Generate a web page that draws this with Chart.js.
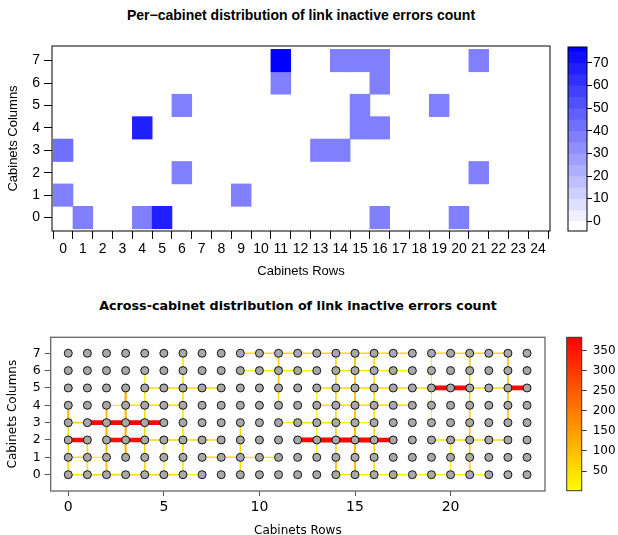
<!DOCTYPE html>
<html>
<head>
<meta charset="utf-8">
<script src="https://cdn.jsdelivr.net/npm/chart.js@4.4.0/dist/chart.umd.min.js"></script>
<style>
  html, body { margin: 0; padding: 0; background: #fff; overflow: hidden; }
  #page { position: relative; width: 618px; height: 535px; }
  canvas { position: absolute; }
  .title { position: absolute; text-align: center; white-space: nowrap; line-height: 20px; color: #000; }
</style>
</head>
<body>
<div id="page">
  <div class="title" style="left:0;top:7px;width:602px;font:bold 14px 'Liberation Sans'">Per−cabinet distribution of link inactive errors count</div>
  <div class="title" style="left:0;top:298px;width:596px;font:bold 12.7px 'DejaVu Sans'">Across-cabinet distribution of link inactive errors count</div>
  <canvas id="heat" width="560" height="290" style="left:0;top:0"></canvas>
  <canvas id="heatBar" width="58" height="290" style="left:560px;top:0"></canvas>
  <canvas id="net" width="560" height="250" style="left:0;top:290px"></canvas>
  <canvas id="netBar" width="58" height="250" style="left:560px;top:290px"></canvas>
</div>
<script>
// ---- per-cabinet heatmap ----
const cellCols   = [1, 4, 5, 16, 20, 0, 9, 6, 21, 0, 13, 14, 4, 15, 16, 6, 15, 19, 11, 16, 11, 14, 15, 16, 21];
const cellRows   = [0, 0, 0, 0, 0, 1, 1, 2, 2, 3, 3, 3, 4, 4, 4, 5, 5, 5, 6, 6, 7, 7, 7, 7, 7];
const cellCounts = [36, 36, 67, 36, 36, 36, 36, 36, 36, 42, 36, 36, 68, 36, 36, 36, 36, 36, 36, 36, 77, 36, 36, 36, 36];
const heatXTicks = [0, 1, 2, 3, 4, 5, 6, 7, 8, 9, 10, 11, 12, 13, 14, 15, 16, 17, 18, 19, 20, 21, 22, 23, 24];
const heatYTicks = [0, 1, 2, 3, 4, 5, 6, 7];
const heatLevels = [-4.3, 0, 5, 10, 15, 20, 25, 30, 35, 40, 45, 50, 55, 60, 65, 70, 75, 77];
const heatBarTicks = [0, 10, 20, 30, 40, 50, 60, 70];

// ---- across-cabinet links ----
const gridCols = 25, gridRows = 8;
const netXTicks = [0, 5, 10, 15, 20];
const netYTicks = [0, 1, 2, 3, 4, 5, 6, 7];
const netBarTicks = [50, 100, 150, 200, 250, 300, 350];
const linkMin = 1, linkMax = 383;
// horizontal links: [row, left column, count]
const hLinks = [
  [0, 0, 45], [0, 1, 55], [0, 2, 55], [0, 3, 55], [0, 4, 55], [0, 5, 50], [0, 6, 15],
  [0, 14, 25], [0, 15, 30], [0, 16, 25], [0, 17, 25], [0, 18, 20], [0, 19, 20], [0, 20, 25], [0, 21, 15],
  [1, 0, 45], [1, 1, 15], [1, 7, 50], [1, 8, 50], [1, 9, 40], [1, 10, 40],
  [2, 0, 368], [2, 2, 365], [2, 3, 366], [2, 4, 55], [2, 5, 55], [2, 6, 55], [2, 7, 55],
  [2, 12, 375], [2, 13, 378], [2, 14, 378], [2, 15, 376], [2, 16, 370],
  [2, 19, 55], [2, 20, 55], [2, 21, 55], [2, 22, 55],
  [3, 0, 60], [3, 1, 370], [3, 2, 375], [3, 3, 375], [3, 4, 374],
  [3, 11, 35], [3, 12, 45], [3, 13, 45], [3, 14, 30], [3, 15, 20],
  [4, 2, 25], [4, 3, 45], [4, 4, 45], [4, 5, 40], [4, 13, 45], [4, 14, 45], [4, 15, 45], [4, 16, 40], [4, 17, 40],
  [5, 4, 55], [5, 5, 55], [5, 6, 55], [5, 7, 55], [5, 13, 55], [5, 14, 55], [5, 15, 55], [5, 16, 55], [5, 17, 55],
  [5, 18, 45], [5, 19, 372], [5, 20, 372], [5, 21, 60], [5, 22, 60], [5, 23, 370],
  [6, 9, 25], [6, 10, 35], [6, 11, 35], [6, 12, 25], [6, 14, 35], [6, 15, 45], [6, 16, 45], [6, 17, 25],
  [7, 9, 55], [7, 10, 55], [7, 11, 55], [7, 12, 55], [7, 13, 55], [7, 14, 55], [7, 15, 55], [7, 16, 55], [7, 17, 55],
  [7, 19, 55], [7, 20, 55], [7, 21, 55], [7, 22, 55]
];
// vertical links: [column, lower row, count]
const vLinks = [
  [0, 3, 110], [0, 2, 60], [0, 1, 60], [0, 0, 60],
  [1, 1, 55], [1, 0, 55],
  [2, 3, 100], [2, 2, 110], [2, 1, 100], [2, 0, 90],
  [3, 4, 120], [3, 3, 110], [3, 2, 110], [3, 1, 110],
  [4, 5, 25], [4, 4, 30], [4, 3, 60], [4, 2, 60], [4, 1, 65], [4, 0, 65],
  [5, 1, 20], [5, 0, 20],
  [6, 6, 50], [6, 5, 50], [6, 4, 50], [6, 3, 50], [6, 2, 50], [6, 1, 50], [6, 0, 50],
  [9, 2, 55], [9, 1, 55], [9, 0, 55],
  [11, 6, 75], [11, 5, 75], [11, 4, 45],
  [13, 4, 20], [13, 3, 20], [13, 2, 20], [13, 1, 20],
  [14, 6, 60], [14, 5, 60], [14, 4, 60], [14, 3, 60], [14, 2, 60], [14, 1, 60], [14, 0, 90],
  [15, 6, 80], [15, 5, 80], [15, 4, 90], [15, 3, 90], [15, 2, 100], [15, 1, 100], [15, 0, 100],
  [16, 6, 55], [16, 5, 55], [16, 4, 55], [16, 3, 55], [16, 2, 55], [16, 1, 55], [16, 0, 55],
  [19, 6, 20], [19, 5, 20], [19, 4, 20], [19, 3, 20],
  [20, 1, 20], [20, 0, 20],
  [21, 6, 65], [21, 5, 65], [21, 4, 65], [21, 3, 65], [21, 2, 65], [21, 1, 65], [21, 0, 65],
  [23, 6, 75], [23, 5, 75], [23, 4, 75], [23, 3, 75]
];

const frame = {
  id: 'frame',
  afterDatasetsDraw(chart, args, opts) {
    const { ctx, chartArea: a } = chart;
    ctx.save();
    ctx.strokeStyle = opts.color;
    ctx.lineWidth = opts.width;
    ctx.strokeRect(a.left, a.top, a.right - a.left, a.bottom - a.top);
    ctx.restore();
  }
};

function heatColor(v) {
  const band = v < 0 ? 0 : Math.min(heatLevels.length - 2, 1 + Math.floor(v / 5));
  const t = band / (heatLevels.length - 2);
  const c = Math.round(255 * (1 - t));
  return 'rgb(' + c + ',' + c + ',255)';
}
function linkColor(v) {
  const t = Math.max(0, Math.min(1, (v - linkMin) / (linkMax - linkMin)));
  return 'rgb(255,' + Math.round(255 * (1 - t)) + ',0)';
}
function linkWidth(v) {
  return 1 + v / 100;
}
const setTicks = (list) => (s) => { s.ticks = list.map(v => ({ value: v })); };
const base = { responsive: false, animation: false, events: [], devicePixelRatio: 1 };
const noPlugins = { legend: { display: false }, tooltip: { enabled: false } };
const lib = "'Liberation Sans', Arial, sans-serif";
const dejavu = "'DejaVu Sans', sans-serif";

// top heatmap
new Chart(document.getElementById('heat'), {
  type: 'bar',
  data: {
    datasets: [{
      data: cellCols.map((c, i) => ({ x: c, y: [cellRows[i] - 0.5, cellRows[i] + 0.5] })),
      backgroundColor: cellCounts.map(heatColor),
      borderWidth: 0,
      barPercentage: 1,
      categoryPercentage: 1
    }]
  },
  options: Object.assign({}, base, {
    layout: { padding: { top: 46, right: 10, left: 0, bottom: 0 } },
    plugins: Object.assign({}, noPlugins, { frame: { color: '#000', width: 1 } }),
    scales: {
      x: {
        type: 'linear', min: -0.56, max: 24.6, offset: false,
        afterBuildTicks: setTicks(heatXTicks),
        afterFit: (s) => { s.height = 59; },
        grid: { drawOnChartArea: false, tickLength: 8, color: '#000' },
        border: { display: false },
        ticks: { font: { family: lib, size: 14 }, color: '#000', padding: 2, autoSkip: false, maxRotation: 0 },
        title: { display: true, text: 'Cabinets Rows', color: '#000', font: { family: lib, size: 13 }, padding: { top: 0, bottom: 11 } }
      },
      y: {
        type: 'linear', min: -0.6, max: 7.65,
        afterBuildTicks: setTicks(heatYTicks),
        afterFit: (s) => { s.width = 52; },
        grid: { drawOnChartArea: false, tickLength: 8, color: '#000' },
        border: { display: false },
        ticks: { font: { family: lib, size: 14 }, color: '#000', padding: 4 },
        title: { display: true, text: 'Cabinets Columns', color: '#000', font: { family: lib, size: 13 }, padding: { top: 5.5, bottom: 0 } }
      }
    }
  }),
  plugins: [frame]
});

// top colour key
new Chart(document.getElementById('heatBar'), {
  type: 'bar',
  data: {
    labels: ['key'],
    datasets: [{
      data: heatLevels.slice(0, -1).map((lo, i) => ({ x: 'key', y: [lo, heatLevels[i + 1]] })),
      backgroundColor: heatLevels.slice(0, -1).map((lo) => heatColor(lo + 0.01)),
      borderWidth: 0,
      barPercentage: 1,
      categoryPercentage: 1
    }]
  },
  options: Object.assign({}, base, {
    layout: { padding: { top: 47, right: 0, left: 8, bottom: 59 } },
    plugins: Object.assign({}, noPlugins, { frame: { color: '#000', width: 1 } }),
    scales: {
      x: { display: false },
      y: {
        position: 'right', min: heatLevels[0], max: heatLevels[heatLevels.length - 1],
        afterBuildTicks: setTicks(heatBarTicks),
        afterFit: (s) => { s.width = 31; },
        grid: { drawOnChartArea: false, tickLength: 5, color: '#000' },
        border: { display: false },
        ticks: { font: { family: lib, size: 14 }, color: '#000', padding: 1 }
      }
    }
  }),
  plugins: [frame]
});

// bottom link graph
const nodes = [];
for (let c = 0; c < gridCols; c++) {
  for (let r = 0; r < gridRows; r++) nodes.push({ x: c, y: r });
}
function linkSet(x1, y1, x2, y2, v) {
  return {
    data: [{ x: x1, y: y1 }, { x: x2, y: y2 }],
    showLine: true,
    borderColor: linkColor(v),
    borderWidth: linkWidth(v),
    borderCapStyle: 'butt',
    pointRadius: 0,
    count: v
  };
}
const links = hLinks.map(([r, c, v]) => linkSet(c, r, c + 1, r, v))
  .concat(vLinks.map(([c, r, v]) => linkSet(c, r, c, r + 1, v)))
  .sort((a, b) => b.count - a.count);

new Chart(document.getElementById('net'), {
  type: 'scatter',
  data: {
    datasets: [{
      data: nodes,
      pointRadius: 4,
      backgroundColor: '#a9a9a9',
      borderColor: '#111',
      borderWidth: 1
    }].concat(links)
  },
  options: Object.assign({}, base, {
    layout: { padding: { top: 47.3, right: 15, left: 0, bottom: 0 } },
    plugins: Object.assign({}, noPlugins, { frame: { color: '#666', width: 1.3 } }),
    scales: {
      x: {
        type: 'linear', min: -0.92, max: 24.94,
        afterBuildTicks: setTicks(netXTicks),
        afterFit: (s) => { s.height = 49; },
        grid: { drawOnChartArea: false, tickLength: 5, color: '#555' },
        border: { display: false },
        ticks: { font: { family: dejavu, size: 14 }, color: '#000', padding: 3 },
        title: { display: true, text: 'Cabinets Rows', color: '#000', font: { family: dejavu, size: 12 }, padding: { top: 0, bottom: 2 } }
      },
      y: {
        type: 'linear', min: -0.94, max: 7.92,
        afterBuildTicks: setTicks(netYTicks),
        afterFit: (s) => { s.width = 50.7; },
        grid: { drawOnChartArea: false, tickLength: 6, color: '#555' },
        border: { display: false },
        ticks: { font: { family: dejavu, size: 12.5 }, color: '#000', padding: 4 },
        title: { display: true, text: 'Cabinets Columns', color: '#000', font: { family: dejavu, size: 12 }, padding: { top: 6, bottom: 0 } }
      }
    }
  }),
  plugins: [frame]
});

// bottom colour bar
new Chart(document.getElementById('netBar'), {
  type: 'bar',
  data: {
    labels: ['key'],
    datasets: [{
      data: [{ x: 'key', y: [linkMin, linkMax] }],
      backgroundColor: (ctx) => {
        const chart = ctx.chart;
        if (!chart.chartArea) return linkColor(linkMin);
        const y = chart.scales.y;
        const g = chart.ctx.createLinearGradient(0, y.getPixelForValue(linkMin), 0, y.getPixelForValue(linkMax));
        g.addColorStop(0, linkColor(linkMin));
        g.addColorStop(1, linkColor(linkMax));
        return g;
      },
      borderWidth: 0,
      barPercentage: 1,
      categoryPercentage: 1
    }]
  },
  options: Object.assign({}, base, {
    layout: { padding: { top: 47.3, right: 0, left: 6.7, bottom: 49.3 } },
    plugins: Object.assign({}, noPlugins, { frame: { color: '#333', width: 1 } }),
    scales: {
      x: { display: false },
      y: {
        position: 'right', min: linkMin, max: linkMax,
        afterBuildTicks: setTicks(netBarTicks),
        afterFit: (s) => { s.width = 36.3; },
        grid: { drawOnChartArea: false, tickLength: 5, color: '#333' },
        border: { display: false },
        ticks: { font: { family: dejavu, size: 12 }, color: '#000', padding: 6 }
      }
    }
  }),
  plugins: [frame]
});
</script>
</body>
</html>
